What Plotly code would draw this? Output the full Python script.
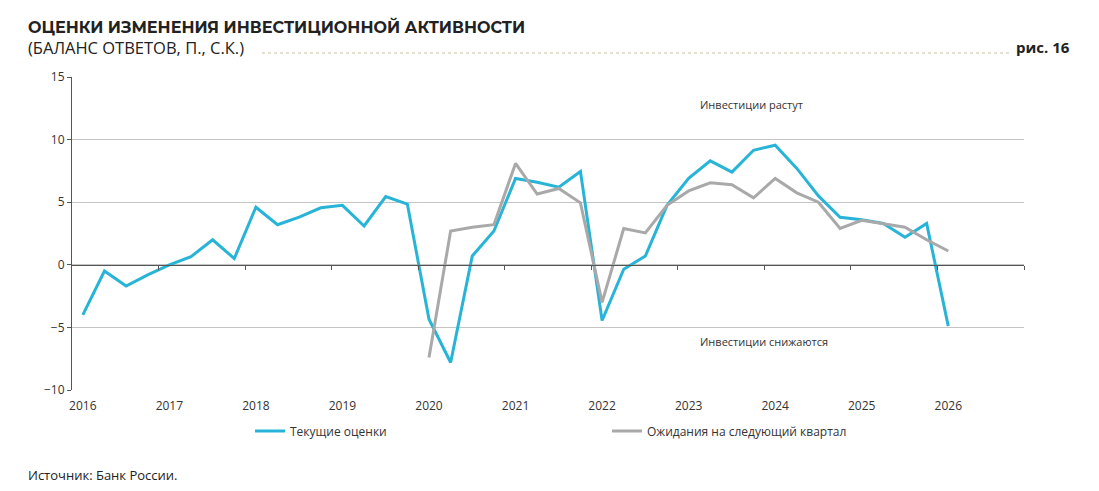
import plotly.graph_objects as go

# ---- data (quarterly, 2016Q1 .. 2026Q1) ----
years = [str(y) for y in range(2016, 2027)]
quarters = [f"{y}Q{q}" for y in range(2016, 2027) for q in range(1, 5)][:41]

current = [-4.0, -0.5, -1.7, -0.8, 0.0, 0.65, 2.0, 0.5,
           4.6, 3.2, 3.8, 4.55, 4.75, 3.1, 5.45, 4.85,
           -4.35, -7.8, 0.7, 2.7, 6.9, 6.6, 6.2, 7.45,
           -4.45, -0.35, 0.7, 4.75, 6.9, 8.3, 7.4, 9.15,
           9.55, 7.7, 5.5, 3.8, 3.6, 3.3, 2.2, 3.3, -4.9]

expected = [None] * 16 + [-7.4, 2.7, 3.0, 3.2, 8.1, 5.65, 6.1, 4.95,
                          -3.0, 2.9, 2.55, 4.75, 5.9, 6.55, 6.4, 5.35,
                          6.9, 5.75, 5.0, 2.9, 3.55, 3.3, 3.0, 2.0, 1.1]

BLUE = "#27b4d7"
GREY = "#a9a9a9"
FONT = "Open Sans"

idx = list(range(len(quarters)))

fig = go.Figure()
fig.add_trace(go.Scatter(x=idx, y=current, mode="lines", name="Текущие оценки",
                         line=dict(color=BLUE, width=3)))
fig.add_trace(go.Scatter(x=idx, y=expected, mode="lines", name="Ожидания на следующий квартал",
                         line=dict(color=GREY, width=3)))
# helper invisible trace for the zero-line axis
fig.add_trace(go.Scatter(x=[-0.5, 43.5], y=[0, 0], xaxis="x2", mode="lines",
                         line=dict(width=0), showlegend=False, hoverinfo="skip"))

L, R, T, B = 72, 75, 77, 101
W, H = 1099, 491
pw, ph = W - L - R, H - T - B

def px(x):
    return (x - L) / pw

def py(y):
    return (H - B - y) / ph

fig.update_layout(
    width=W, height=H,
    margin=dict(l=L, r=R, t=T, b=B),
    paper_bgcolor="white", plot_bgcolor="white",
    font=dict(family=FONT, color="#333333", size=11),
    xaxis=dict(range=[-0.5, 43.5], tickvals=[i * 4 for i in range(len(years))],
               ticktext=years, showgrid=False, showline=False, zeroline=False,
               ticks="", tickfont=dict(size=12, color="#333333"), ticklabelstandoff=7),
    xaxis2=dict(range=[-0.5, 43.5], overlaying="x", anchor="free", position=0.4,
                showline=True, linecolor="#555555", linewidth=1,
                tickvals=[3.5 + 4 * i for i in range(11)], ticks="outside",
                ticklen=4, tickcolor="#555555", showticklabels=False,
                showgrid=False, zeroline=False),
    yaxis=dict(range=[-10, 15], dtick=5, tick0=-10, showgrid=True,
               gridcolor="#c4c4c4", gridwidth=1, zeroline=False,
               showline=True, linecolor="#555555", linewidth=1,
               ticks="outside", ticklen=4, tickcolor="#555555",
               tickfont=dict(size=12, color="#333333")),
    legend=dict(orientation="h", x=px(250), y=py(431), xanchor="left", yanchor="middle",
                entrywidth=312, entrywidthmode="pixels",
                font=dict(size=12, color="#333333"), bgcolor="rgba(0,0,0,0)"),
    showlegend=True,
)

ann = [
    dict(text="<b>ОЦЕНКИ ИЗМЕНЕНИЯ ИНВЕСТИЦИОННОЙ АКТИВНОСТИ</b>", x=px(26), y=py(27),
         font=dict(size=16, color="#222222", family="Montserrat, " + FONT)),
    dict(text="(БАЛАНС ОТВЕТОВ, П., С.К.)", x=px(26), y=py(47),
         font=dict(size=16.5, color="#222222")),
    dict(text="<b>рис. 16</b>", x=px(1014), y=py(47),
         font=dict(size=15, color="#222222")),
    dict(text="Источник: Банк России.", x=px(26), y=py(475),
         font=dict(size=13, color="#222222")),
    dict(text="Инвестиции растут", x=px(698), y=py(104),
         font=dict(size=11, color="#333333")),
    dict(text="Инвестиции снижаются", x=px(698), y=py(341),
         font=dict(size=11, color="#333333")),
]
for a in ann:
    fig.add_annotation(xref="paper", yref="paper", xanchor="left", yanchor="middle",
                       showarrow=False, **a)

fig.add_shape(type="line", xref="paper", yref="paper", x0=px(262), x1=px(1012),
              y0=py(53), y1=py(53), line=dict(color="#c9c2a0", width=1, dash="dot"))

fig.write_html("out.html")
